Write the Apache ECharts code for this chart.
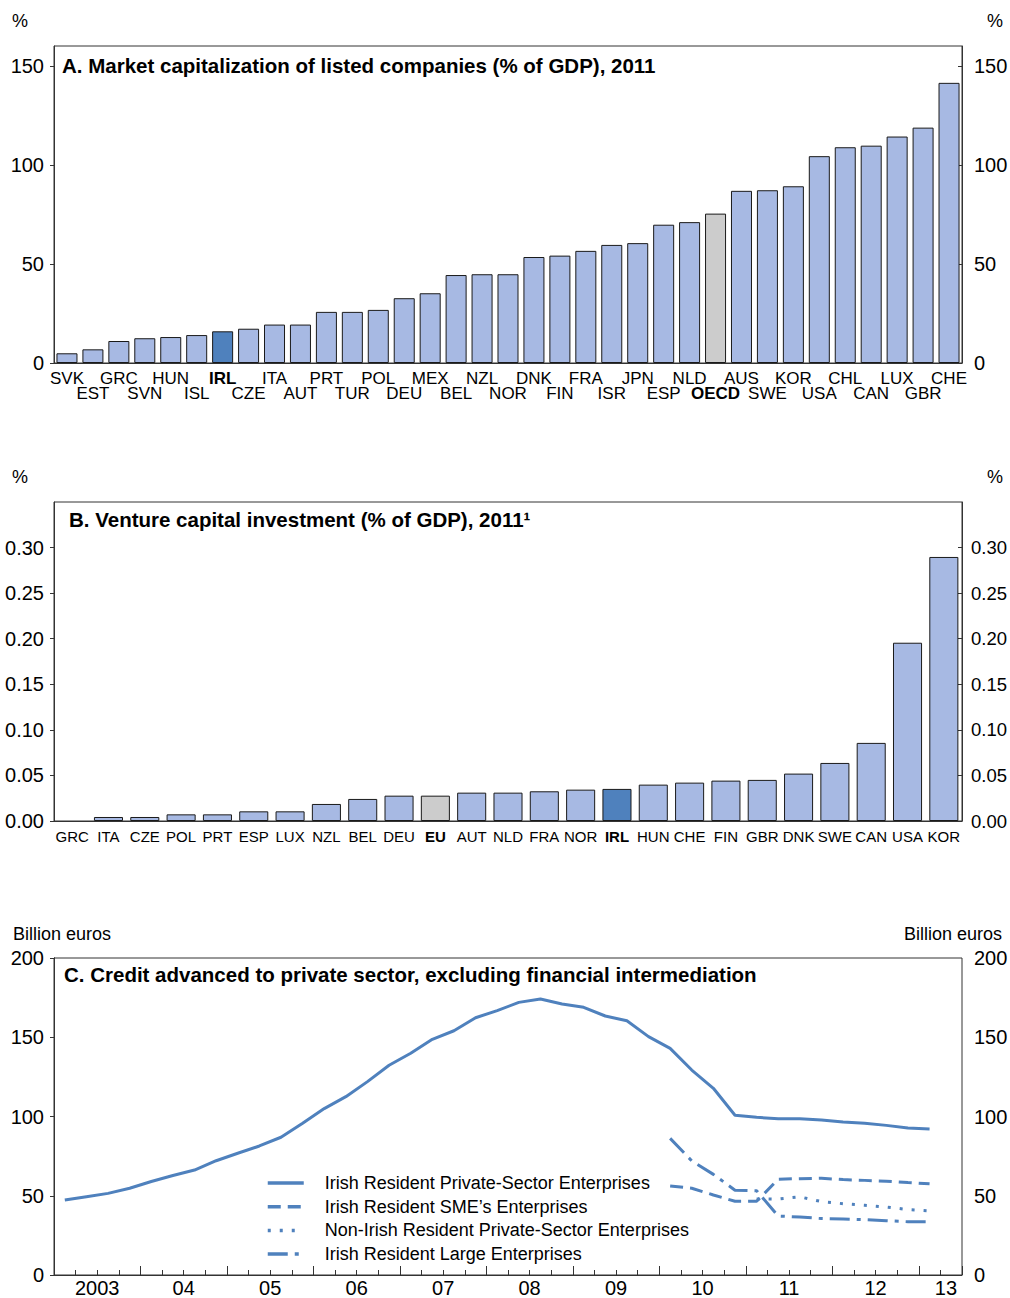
<!DOCTYPE html>
<html><head><meta charset="utf-8">
<script src="https://cdn.jsdelivr.net/npm/echarts@6/dist/echarts.min.js"></script>
<style>html,body{margin:0;padding:0;background:#fff}#c{width:1010px;height:1298px}</style>
</head><body><div id="c"></div>
<script>
// ---------- Panel A: market capitalization (% of GDP), 2011 ----------
const capCountries = ['SVK','EST','GRC','SVN','HUN','ISL','IRL','CZE','ITA','AUT','PRT','TUR','POL','DEU','MEX','BEL','NZL','NOR','DNK','FIN','FRA','ISR','JPN','ESP','NLD','OECD','AUS','SWE','KOR','USA','CHL','CAN','LUX','GBR','CHE'];
const capValues = [4.9,6.9,11.1,12.5,13.1,14.1,16.0,17.3,19.4,19.4,25.8,25.8,26.8,32.7,35.2,44.4,44.8,44.8,53.5,54.2,56.6,59.6,60.5,69.8,71.1,75.4,86.9,87.2,89.2,104.4,108.9,109.7,114.3,118.8,141.4];

// ---------- Panel B: venture capital investment (% of GDP), 2011 ----------
const vcCountries = ['GRC','ITA','CZE','POL','PRT','ESP','LUX','NZL','BEL','DEU','EU','AUT','NLD','FRA','NOR','IRL','HUN','CHE','FIN','GBR','DNK','SWE','CAN','USA','KOR'];
const vcValues = [0,0.0044,0.0044,0.0073,0.0073,0.0106,0.0106,0.0187,0.0242,0.0278,0.0278,0.0311,0.0311,0.0326,0.0344,0.0352,0.0399,0.0421,0.0443,0.0451,0.052,0.0637,0.0857,0.1956,0.2897];

// ---------- Panel C: credit advanced to private sector (billion euros) ----------
const quarterYears = ['2003','2004','2005','2006','2007','2008','2009','2010','2011','2012','2013'];
const quarterNames = ['Q1','Q2','Q3','Q4'];
const yearLabels = ['2003','04','05','06','07','08','09','10','11','12','13'];
// 2003Q1 .. 2013Q1
const privateSector = [47.3,49.4,51.5,54.7,59.0,62.8,66.2,72.1,76.8,81.4,86.9,95.7,105.0,112.5,122.0,132.3,139.9,148.7,154.1,162.3,166.8,172.0,174.1,171.0,168.9,163.4,160.4,150.4,143.0,129.3,117.8,100.8,99.5,98.6,98.6,97.8,96.5,95.7,94.4,92.7,92.1];
// 2010Q1 .. 2013Q1
const smeEnterprises = [56.2,54.7,50.5,46.5,46.5,60.4,60.8,61.0,60.2,59.7,59.2,58.3,57.5];
// 2010Q1 .. 2013Q1
const largeEnterprises = [86.2,72.0,63.5,53.5,53.2,37.2,36.6,35.6,35.3,34.9,34.3,33.6,33.6];
// 2011Q1 .. 2013Q1
const nonIrishEnterprises = [48.0,47.9,49.3,46.3,45.0,44.0,42.9,41.3,40.5];
const seriesNames = ['Irish Resident Private-Sector Enterprises','Irish Resident SME\u2019s Enterprises','Non-Irish Resident Private-Sector Enterprises','Irish Resident Large Enterprises'];

const quarters = [];
quarterYears.forEach(y => quarterNames.forEach(q => quarters.push(y + q)));
quarters.length = 42; // axis runs to 2013Q2
function placeFrom(startLabel, vals) {
  const start = quarters.indexOf(startLabel);
  return quarters.map((q, i) => (i >= start && i - start < vals.length) ? vals[i - start] : null);
}

const FONT = '"Liberation Sans", Arial, sans-serif';
const LIGHT = '#A7B9E3', DARK = '#4F81BD', GREY = '#CCCCCC', LINE = '#4F81BD', FRAME = '#333';

function barColor(name) {
  if (name === 'IRL') return DARK;
  if (name === 'OECD' || name === 'EU') return GREY;
  return LIGHT;
}

function yAxisPair(grid, max, interval, fmt, showMax, rightSize, rightMargin) {
  const base = {
    type: 'value', gridIndex: grid, min: 0, max: max, interval: interval,
    splitLine: { show: false },
    axisLine: { show: true, lineStyle: { color: FRAME } },
    axisLabel: { color: '#000', fontSize: 20, fontFamily: FONT, showMaxLabel: showMax, formatter: fmt }
  };
  return [
    Object.assign({}, base, { position: 'left', axisTick: { show: true, inside: false, length: 4, lineStyle: { color: FRAME } }, axisLabel: Object.assign({}, base.axisLabel, { margin: 10 }) }),
    Object.assign({}, base, { position: 'right', axisTick: { show: true, inside: true, length: 4, lineStyle: { color: FRAME } }, axisLabel: Object.assign({}, base.axisLabel, { margin: rightMargin, fontSize: rightSize }) })
  ];
}

const chart = echarts.init(document.getElementById('c'), null, { renderer: 'svg' });

const gridBase = { left: 54, right: 48, show: true, borderColor: FRAME, borderWidth: 1, backgroundColor: 'transparent', containLabel: false, outerBoundsMode: 'none' };
const TITLE_FONT = 'bold 20.5px ' + FONT;

const option = {
  animation: false,
  textStyle: { fontFamily: FONT },
  grid: [
    Object.assign({ top: 46, height: 317 }, gridBase),
    Object.assign({ top: 502, height: 319 }, gridBase),
    Object.assign({ top: 958, height: 317 }, gridBase)
  ],
  xAxis: [
    {
      type: 'category', gridIndex: 0, data: capCountries, position: 'bottom',
      axisLine: { lineStyle: { color: FRAME } }, axisTick: { show: false },
      axisLabel: {
        interval: 0, margin: 8, color: '#000', fontSize: 17, lineHeight: 15, fontFamily: FONT,
        formatter: (v, i) => {
          const s = (v === 'IRL' || v === 'OECD') ? '{b|' + v + '}' : '{a|' + v + '}';
          return i % 2 ? '{a| }\n' + s : s;
        },
        rich: {
          a: { fontSize: 17, lineHeight: 15, color: '#000', fontFamily: FONT },
          b: { fontSize: 17, lineHeight: 15, color: '#000', fontWeight: 'bold', fontFamily: FONT }
        }
      }
    },
    {
      type: 'category', gridIndex: 1, data: vcCountries, position: 'bottom',
      axisLine: { lineStyle: { color: FRAME } }, axisTick: { show: false },
      axisLabel: {
        interval: 0, margin: 8, color: '#000', fontSize: 15, fontFamily: FONT,
        formatter: v => (v === 'IRL' || v === 'EU') ? '{b|' + v + '}' : v,
        rich: { b: { fontSize: 15, fontWeight: 'bold', color: '#000', fontFamily: FONT } }
      }
    },
    {
      type: 'category', gridIndex: 2, data: quarters, position: 'bottom', boundaryGap: true,
      axisLine: { lineStyle: { color: FRAME } },
      axisTick: { show: true, inside: true, length: 5, interval: 0, lineStyle: { color: FRAME } },
      axisLabel: { show: false }
    },
    {
      type: 'value', gridIndex: 2, position: 'bottom', min: 0, max: 42, interval: 4,
      axisLine: { show: false }, splitLine: { show: false },
      axisTick: { show: true, inside: true, length: 9, lineStyle: { color: FRAME } },
      axisLabel: { show: false }
    },
    {
      type: 'value', gridIndex: 2, position: 'bottom', min: 0, max: 42, interval: 1,
      axisLine: { show: false }, splitLine: { show: false }, axisTick: { show: false },
      axisLabel: {
        color: '#000', fontSize: 20, fontFamily: FONT, margin: 3, showMinLabel: true, showMaxLabel: true,
        formatter: v => {
          const q = Math.round(v);
          if (q % 4 === 2 && q < 42) return yearLabels[(q - 2) / 4];
          if (q === 41) return '  ' + yearLabels[10];
          return '';
        }
      }
    }
  ],
  yAxis: [].concat(
    yAxisPair(0, 160, 50, v => String(v), false, 20, 12),
    yAxisPair(1, 0.35, 0.05, v => v.toFixed(2), false, 18.5, 9),
    yAxisPair(2, 200, 50, v => String(v), true, 20, 12)
  ),
  legend: {
    show: true, orient: 'vertical', left: 266, top: 1173, selectedMode: false, padding: 0,
    itemWidth: 36, itemHeight: 20, itemGap: 3.7,
    itemStyle: { opacity: 0, borderWidth: 0 },
    lineStyle: { width: 3.5 },
    textStyle: { fontSize: 18, color: '#000', fontFamily: FONT, padding: [0, 0, 0, 16], lineHeight: 20 },
    data: seriesNames
  },
  series: [
    {
      type: 'bar', xAxisIndex: 0, yAxisIndex: 0, barCategoryGap: '19%',
      itemStyle: { borderColor: '#1a1a1a', borderWidth: 1 },
      data: capValues.map((v, i) => ({ value: v, itemStyle: { color: barColor(capCountries[i]) } }))
    },
    {
      type: 'bar', xAxisIndex: 1, yAxisIndex: 2, barCategoryGap: '20%',
      itemStyle: { borderColor: '#1a1a1a', borderWidth: 1 },
      data: vcValues.map((v, i) => ({ value: v, itemStyle: { color: barColor(vcCountries[i]), borderWidth: v > 0 ? 1 : 0 } }))
    },
    {
      name: seriesNames[0], type: 'line', xAxisIndex: 2, yAxisIndex: 4, symbol: 'none', connectNulls: false,
      lineStyle: { color: LINE, width: 3, type: 'solid' }, itemStyle: { color: LINE },
      data: placeFrom('2003Q1', privateSector)
    },
    {
      name: seriesNames[1], type: 'line', xAxisIndex: 2, yAxisIndex: 4, symbol: 'none',
      lineStyle: { color: LINE, width: 3, type: [13, 7] }, itemStyle: { color: LINE },
      data: placeFrom('2010Q1', smeEnterprises)
    },
    {
      name: seriesNames[2], type: 'line', xAxisIndex: 2, yAxisIndex: 4, symbol: 'none',
      lineStyle: { color: LINE, width: 3, type: [3, 9] }, itemStyle: { color: LINE },
      data: placeFrom('2011Q1', nonIrishEnterprises)
    },
    {
      name: seriesNames[3], type: 'line', xAxisIndex: 2, yAxisIndex: 4, symbol: 'none',
      lineStyle: { color: LINE, width: 3, type: [20, 7, 4, 7] }, itemStyle: { color: LINE },
      data: placeFrom('2010Q1', largeEnterprises)
    }
  ],
  graphic: [
    { type: 'text', left: 12, top: 12, style: { text: '%', font: '18px ' + FONT, fill: '#000' } },
    { type: 'text', right: 7, top: 12, style: { text: '%', font: '18px ' + FONT, fill: '#000' } },
    { type: 'text', left: 62, top: 55, style: { text: 'A. Market capitalization of listed companies (% of GDP), 2011', font: TITLE_FONT, fill: '#000' } },
    { type: 'text', left: 12, top: 468, style: { text: '%', font: '18px ' + FONT, fill: '#000' } },
    { type: 'text', right: 7, top: 468, style: { text: '%', font: '18px ' + FONT, fill: '#000' } },
    { type: 'text', left: 69, top: 509, style: { text: 'B. Venture capital investment (% of GDP), 2011\u00B9', font: TITLE_FONT, fill: '#000' } },
    { type: 'text', left: 13, top: 925, style: { text: 'Billion euros', font: '18px ' + FONT, fill: '#000' } },
    { type: 'text', right: 8, top: 925, style: { text: 'Billion euros', font: '18px ' + FONT, fill: '#000' } },
    { type: 'text', left: 64, top: 964, style: { text: 'C. Credit advanced to private sector, excluding financial intermediation', font: TITLE_FONT, fill: '#000' } }
  ]
};
chart.setOption(option);
</script>
</body></html>
